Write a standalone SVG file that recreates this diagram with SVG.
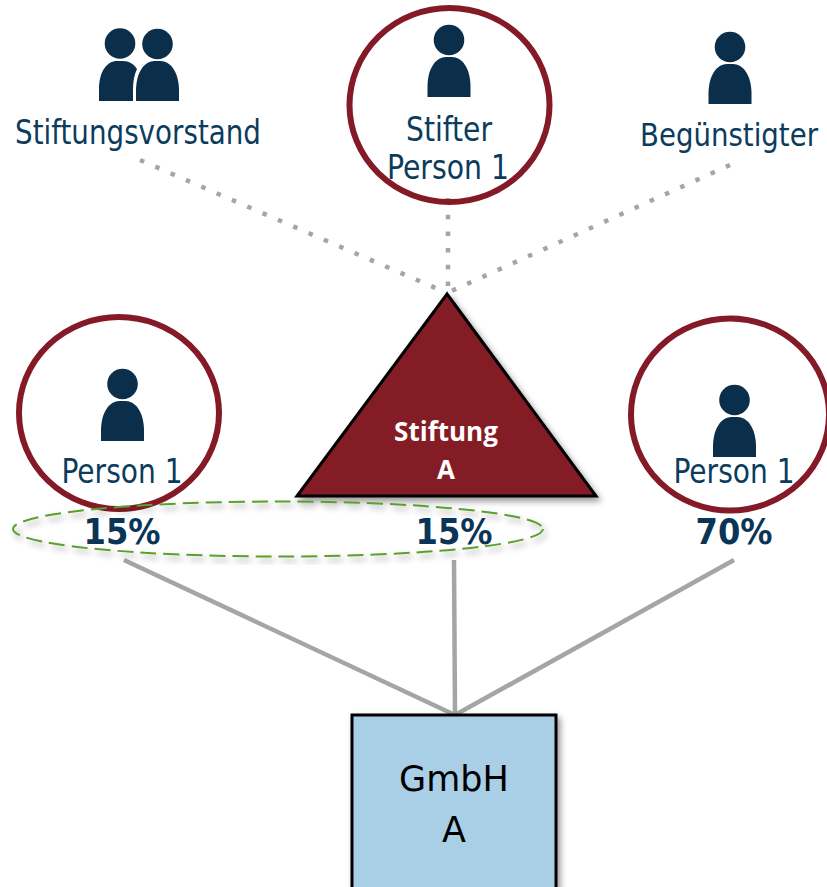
<svg xmlns="http://www.w3.org/2000/svg" width="827" height="887" viewBox="0 0 827 887">
<style>
.t{font-family:"DejaVu Sans Condensed","DejaVu Sans",sans-serif;font-stretch:condensed;fill:#0b3c5d;font-size:33px;text-anchor:middle}
.p{font-family:"DejaVu Sans Condensed","DejaVu Sans",sans-serif;font-stretch:condensed;font-weight:700;fill:#0b3557;font-size:35px;text-anchor:middle}
.ring{fill:none;stroke:#841a27;stroke-width:6}
.ic{fill:#0b2e4a}
.dot{fill:none;stroke:#a5a5a5;stroke-width:4.500;stroke-dasharray:4.500 12.200}
.ln{fill:none;stroke:#a5a5a5;stroke-width:4.500}
</style>
<defs>
<filter id="sh" x="-10%" y="-10%" width="125%" height="125%"><feDropShadow dx="3" dy="4" stdDeviation="3" flood-color="#000" flood-opacity="0.4"/></filter>
<g id="person" class="ic"><path d="M-21.500 41V31C-21.500 12-13 1-3 1H3C13 1 21.500 12 21.500 31V41Z"/><circle cx="0" cy="-16" r="15.300"/></g>
</defs>
<g id="connectors">
<path class="dot" d="M140 160L447 293"/>
<path class="dot" d="M448 198V293"/>
<path class="dot" d="M730 165L447 293"/>
<path class="ln" d="M124 560L455 715"/>
<path class="ln" d="M454 560L455 715"/>
<path class="ln" d="M734 560L455 715"/>
</g>
<g id="vorstand">
<use href="#person" x="157.500" y="60"/>
<g class="ic"><path d="M99 101V90C99 71 107 61 117 61H123C129 61 134 64 137 69C134 75 133 82 133 90V101Z"/><circle cx="120" cy="43.500" r="15.300"/></g>
<text class="t" x="138" y="144" textLength="246" lengthAdjust="spacingAndGlyphs">Stiftungsvorstand</text>
</g>
<g id="stifter">
<ellipse class="ring" cx="449.500" cy="105" rx="100" ry="97"/>
<use href="#person" x="449" y="56"/>
<text class="t" x="449" y="141" textLength="86" lengthAdjust="spacingAndGlyphs">Stifter</text>
<text class="t" x="448" y="179" textLength="122" lengthAdjust="spacingAndGlyphs">Person 1</text>
</g>
<g id="beguenstigter">
<use href="#person" x="730" y="63"/>
<text class="t" x="729" y="146" textLength="178" lengthAdjust="spacingAndGlyphs" style="font-size:31.500px">Begünstigter</text>
</g>
<g id="person-left">
<ellipse class="ring" cx="119" cy="413" rx="100" ry="96"/>
<use href="#person" x="122.500" y="400"/>
<text class="t" x="122" y="483" textLength="121" lengthAdjust="spacingAndGlyphs">Person 1</text>
</g>
<g id="stiftung">
<path d="M447 294L596 496H297Z" fill="#841a27" stroke="#000" stroke-width="3" filter="url(#sh)"/>
<text x="446" y="441" text-anchor="middle" fill="#fff" font-family="'Open Sans',sans-serif" font-weight="700" font-size="26">Stiftung</text>
<text x="446" y="479" text-anchor="middle" fill="#fff" font-family="'Open Sans',sans-serif" font-weight="700" font-size="26">A</text>
</g>
<g id="person-right">
<ellipse class="ring" cx="730" cy="414.500" rx="99" ry="96"/>
<use href="#person" x="734.500" y="416"/>
<text class="t" x="734" y="483" textLength="121" lengthAdjust="spacingAndGlyphs">Person 1</text>
</g>
<g id="group-ellipse">
<ellipse cx="278" cy="529" rx="265" ry="27.500" fill="none" stroke="#5aa02c" stroke-width="2" stroke-dasharray="16 7" filter="url(#sh)"/>
</g>
<g id="pct-a"><text class="p" x="122" y="544" textLength="77" lengthAdjust="spacingAndGlyphs">15%</text></g>
<g id="pct-b"><text class="p" x="454" y="544" textLength="77" lengthAdjust="spacingAndGlyphs">15%</text></g>
<g id="pct-c"><text class="p" x="734" y="544" textLength="77" lengthAdjust="spacingAndGlyphs">70%</text></g>
<g id="gmbh">
<rect x="352" y="715" width="204" height="180" fill="#a9cfe6" stroke="#000" stroke-width="3" filter="url(#sh)"/>
<text x="454" y="791" text-anchor="middle" font-family="'DejaVu Sans',sans-serif" font-size="35" fill="#000">GmbH</text>
<text x="454" y="842" text-anchor="middle" font-family="'DejaVu Sans',sans-serif" font-size="35" fill="#000">A</text>
</g>
</svg>
